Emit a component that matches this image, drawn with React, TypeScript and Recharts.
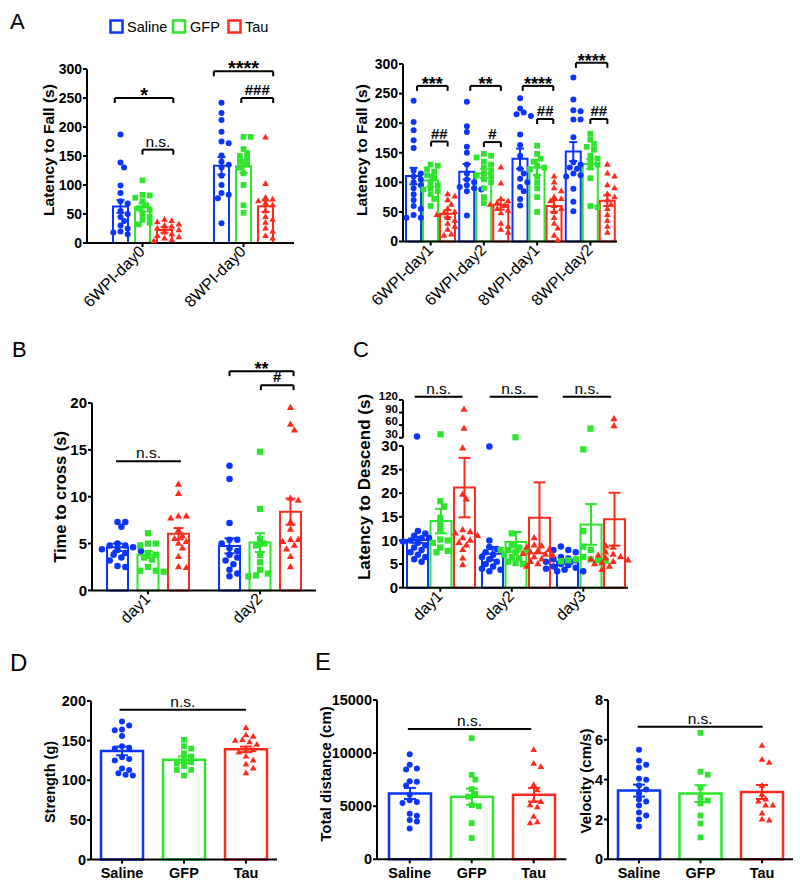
import React from 'react';
import { ComposedChart, Bar, ErrorBar, Scatter, XAxis, YAxis, ReferenceLine } from 'recharts';

const FONT = '"Liberation Sans", Arial, Helvetica, sans-serif';
const SERIES = ['Saline', 'GFP', 'Tau'];
const COLORS = ['#0a34ff', '#2de52d', '#ff2a1c'];

// ---- A left: latency to fall, day0 ----
const A1_GROUPS = ['6WPI-day0', '8WPI-day0'];
const A1_MEAN = [[63, 133], [61.5, 132.5], [22.5, 63.5]];
const A1_SEM = [[11, 15], [7, 12], [4.5, 10]];
const A1_SALINE = [
  [187, 139, 130, 99, 86, 72, 68, 55, 50, 45, 38, 30, 25, 20, 18, 15],
  [242, 224, 212, 192, 175, 172, 151, 140, 135, 130, 116, 100, 86, 83, 77, 34],
];
const A1_GFP = [
  [108, 83, 82, 78, 72, 65, 60, 57, 50, 45, 40, 35, 32],
  [183, 183, 162, 155, 150, 145, 140, 135, 130, 120, 100, 65, 52],
];
const A1_TAU = [
  [40, 38, 36, 32, 30, 28, 25, 22, 18, 15, 12, 10, 8, 5, 3],
  [182, 102, 78, 75, 72, 68, 65, 55, 45, 40, 35, 25, 20, 12, 8],
];

// ---- A right: latency to fall, day1/day2 ----
const A2_GROUPS = ['6WPI-day1', '6WPI-day2', '8WPI-day1', '8WPI-day2'];
const A2_MEAN = [[110.5, 118, 140, 152], [103, 115, 125, 131], [47, 62, 60, 69]];
const A2_SEM = [[14, 13, 17, 16], [10, 8, 13, 8], [6, 8, 10, 9]];
const A2_SALINE = [
  [238, 202, 188, 171, 158, 120, 115, 110, 105, 100, 95, 90, 80, 70, 60, 55, 45, 40, 40],
  [236, 195, 185, 160, 150, 130, 115, 105, 100, 95, 92, 90, 88, 85, 44],
  [242, 225, 218, 215, 212, 181, 163, 145, 123, 115, 106, 100, 92, 85, 72, 61],
  [277, 240, 222, 220, 206, 206, 176, 134, 130, 125, 123, 115, 112, 110, 89, 67, 51],
];
const A2_GFP = [
  [130, 128, 122, 118, 112, 108, 100, 95, 90, 88, 85, 80, 72, 60],
  [148, 145, 142, 135, 130, 125, 120, 115, 112, 110, 105, 100, 90, 75, 65],
  [162, 148, 140, 135, 128, 125, 122, 110, 100, 90, 75, 50],
  [182, 172, 165, 160, 155, 145, 140, 135, 130, 125, 107, 60, 58],
];
const A2_TAU = [
  [80, 76, 70, 62, 55, 50, 48, 45, 40, 35, 30, 25, 20, 12, 10],
  [125, 98, 72, 68, 65, 62, 60, 55, 52, 48, 30, 25, 20, 15],
  [110, 100, 90, 85, 75, 72, 68, 60, 55, 50, 40, 30, 22, 10, 2],
  [130, 115, 110, 95, 90, 80, 75, 70, 62, 55, 45, 35, 25, 15],
];

// ---- B: time to cross ----
const B_GROUPS = ['day1', 'day2'];
const B_MEAN = [[4.6, 4.75], [3.8, 5.1], [6.05, 8.4]];
const B_SEM = [[0.4, 0.8], [0.35, 1.0], [0.6, 1.4]];
const B_SALINE = [
  [7.3, 7.3, 6.8, 5.0, 4.8, 4.8, 4.6, 4.4, 4.3, 4.2, 4.0, 3.8, 3.5, 3.2, 2.6, 2.5],
  [13.3, 11.9, 7.2, 5.4, 5.4, 5.0, 4.5, 4.2, 3.8, 3.5, 3.2, 2.8, 2.2, 1.8, 1.5],
];
const B_GFP = [
  [6.1, 5.0, 5.0, 4.8, 4.0, 3.8, 3.5, 3.3, 2.5, 2.1, 2.1, 2.0],
  [14.8, 8.7, 5.5, 5.0, 4.8, 3.8, 3.0, 2.2, 1.8, 1.6, 1.5],
];
const B_TAU = [
  [11.3, 10.3, 7.9, 7.9, 7.7, 6.4, 5.8, 5.5, 5.2, 5.0, 4.5, 3.6, 2.5, 2.4],
  [19.5, 17.7, 17.1, 9.8, 9.6, 7.3, 6.5, 5.4, 5.4, 5.2, 4.8, 4.4, 3.6, 2.5],
];

// ---- C: latency to descend (broken axis) ----
const C_GROUPS = ['day1', 'day2', 'day3'];
const C_MEAN = [[10.1, 7.2, 5.5], [14.1, 9.7, 13.4], [21.2, 14.8, 14.5]];
const C_SEM = [[0.6, 1.4, 0.4], [2.6, 2.1, 4.3], [6.3, 7.5, 5.6]];
const C_SALINE = [
  [33, 12, 11.5, 11, 10.5, 10.5, 10, 9.8, 9.5, 9, 8.5, 8, 7.5, 7, 6.5, 6, 5.5],
  [29.9, 10, 8.6, 8.2, 7.5, 7, 6.5, 6, 5.5, 5, 4.5, 4, 3.8, 3.5],
  [8.7, 8, 8, 7.5, 6.5, 6.2, 6, 5.8, 5.5, 5, 4.8, 4.5, 4.2, 4, 3.8, 3.5, 3.5],
];
const C_GFP = [
  [38, 18.3, 17.2, 14.8, 13.5, 12.2, 10.2, 10, 9.5, 8.5, 7.8, 7.5],
  [31, 11.5, 9, 8.5, 8, 8, 7.8, 7.5, 7, 6.5, 6.2, 5.5, 5.2, 5],
  [51.5, 29.3, 12, 8.7, 8, 6.5, 6, 6, 5.8, 5.8, 5.7, 5.6],
];
const C_TAU = [
  [97, 52, 29.5, 19.7, 18.7, 12.2, 11.8, 11.5, 11, 10.5, 10, 9.5, 9, 8, 6.2, 4.8],
  [10.5, 9, 8.8, 8.5, 8, 7.8, 7.5, 7.2, 7, 6.8, 6.5, 6, 5.5, 5, 4.5],
  [74.6, 58, 8.8, 8.5, 7.5, 7, 6.8, 6.5, 6.2, 6, 5.8, 5.5, 5.2, 5, 4.5, 3.8],
];

// ---- D: strength ----
const D_MEAN = [[137], [126], [139]];
const D_SEM = [[5.5], [4], [3.5]];
const D_SALINE = [[174, 169, 164, 163, 156, 143, 141, 140, 129, 127, 125, 115, 113, 109, 107, 106]];
const D_GFP = [[151, 143, 140, 134, 130, 125, 123, 121, 118, 113, 113, 106]];
const D_TAU = [[166, 157, 155, 151, 150, 148, 145, 140, 138, 135, 130, 125, 120, 115, 109]];

// ---- E: open field ----
const E1_MEAN = [[6200], [5900], [6080]];
const E1_SEM = [[520], [760], [640]];
const E1_SALINE = [[9900, 8900, 8550, 8450, 7350, 7300, 6950, 6100, 5550, 5400, 5300, 4300, 4100, 3700, 3550, 2900]];
const E1_GFP = [[11400, 7950, 7500, 6600, 6150, 5900, 5100, 5000, 3400, 2000]];
const E1_TAU = [[10300, 9000, 8700, 7000, 6500, 5500, 5400, 5100, 4900, 4000, 3500, 3400]];
const E2_MEAN = [[3.45], [3.3], [3.38]];
const E2_SEM = [[0.3], [0.42], [0.35]];
const E2_SALINE = [[5.5, 4.95, 4.75, 4.6, 4.05, 4.0, 3.7, 3.5, 3.3, 3.0, 2.9, 2.7, 2.35, 2.2, 2.0, 1.65]];
const E2_GFP = [[6.35, 4.4, 4.25, 3.6, 3.1, 2.95, 2.8, 2.2, 1.8, 1.1]];
const E2_TAU = [[5.7, 5.0, 4.85, 3.7, 3.25, 3.0, 2.9, 2.7, 2.7, 2.3, 2.0, 1.95]];

// significance marks: group, from/to in bar slots (0 = Saline, 2 = Tau), y in data units
type Sig = { g: number; from: number; to: number; y: number; text: string; drop?: boolean };
const A1_SIG: Sig[] = [
  { g: 0, from: -0.26, to: 2.4, y: 250, text: '*', drop: true },
  { g: 0, from: 1.0, to: 2.4, y: 161, text: 'n.s.', drop: true },
  { g: 1, from: -0.35, to: 2.35, y: 296, text: '****', drop: true },
  { g: 1, from: 0.9, to: 2.35, y: 250, text: '###', drop: true },
];
const A2_SIG: Sig[] = [
  { g: 0, from: 0.2, to: 2.0, y: 263, text: '***', drop: true },
  { g: 0, from: 1.03, to: 2.0, y: 169, text: '##', drop: true },
  { g: 1, from: 0.2, to: 2.0, y: 263, text: '**', drop: true },
  { g: 1, from: 1.0, to: 2.0, y: 168, text: '#', drop: true },
  { g: 2, from: 0.15, to: 1.95, y: 263, text: '****', drop: true },
  { g: 2, from: 1.0, to: 1.95, y: 207, text: '##', drop: true },
  { g: 3, from: 0.15, to: 2.0, y: 302, text: '****', drop: true },
  { g: 3, from: 1.0, to: 2.0, y: 207, text: '##', drop: true },
];
const B_SIG: Sig[] = [
  { g: 0, from: -0.05, to: 2.08, y: 13.77, text: 'n.s.' },
  { g: 1, from: 0, to: 2.1, y: 23.4, text: '**', drop: true },
  { g: 1, from: 1.03, to: 2.1, y: 21.9, text: '#', drop: true },
];
const C_SIG: Sig[] = [
  { g: 0, from: -0.1, to: 1.94, y: 128, text: 'n.s.' },
  { g: 1, from: -0.1, to: 1.95, y: 128, text: 'n.s.' },
  { g: 2, from: -0.18, to: 1.88, y: 128, text: 'n.s.' },
];
const D_SIG: Sig[] = [{ g: 0, from: -0.04, to: 2.0, y: 189, text: 'n.s.' }];
const E1_SIG: Sig[] = [{ g: 0, from: -0.03, to: 1.96, y: 12270, text: 'n.s.' }];
const E2_SIG: Sig[] = [{ g: 0, from: -0.02, to: 2.01, y: 6.66, text: 'n.s.' }];

// simple beeswarm: horizontal pixel offsets so dots don't pile up
function swarm(py: number[], d: number): number[] {
  const done: [number, number][] = [];
  return py.map((y) => {
    let best = 0;
    for (let k = 0; k < 15; k++) {
      const off = k === 0 ? 0 : (k % 2 ? 1 : -1) * Math.ceil(k / 2) * d * 0.6;
      if (done.every(([ox, oy]) => Math.hypot(ox - off, oy - y) >= d * 0.9)) {
        best = off;
        break;
      }
    }
    done.push([best, y]);
    return best;
  });
}

function dotShape(s: number, d: number) {
  const color = COLORS[s];
  return (props: any) => {
    const { cx, cy } = props;
    if (cx == null || cy == null) return <g />;
    if (s === 0) return <circle cx={cx} cy={cy} r={d / 2} fill={color} />;
    if (s === 1) return <rect x={cx - d * 0.48} y={cy - d * 0.48} width={d * 0.96} height={d * 0.96} fill={color} />;
    const r = d * 0.62;
    return <polygon points={`${cx},${cy - r} ${cx + r * 0.9},${cy + r * 0.55} ${cx - r * 0.9},${cy + r * 0.55}`} fill={color} />;
  };
}

function XTick({ x, y, payload, names, ticks, angled, font }: any) {
  const i = ticks.findIndex((t: number) => Math.abs(t - payload.value) < 1e-6);
  const label = i >= 0 ? names[i] : '';
  if (angled) {
    return (
      <text x={x} y={y} dy={font * 0.3} textAnchor="end" transform={`rotate(-45 ${x} ${y})`}
        fontSize={font} fontFamily={FONT} fill="#000">{label}</text>
    );
  }
  return (
    <text x={x} y={y} dy={font * 0.85} textAnchor="middle" fontSize={font} fontWeight="bold"
      fontFamily={FONT} fill="#000">{label}</text>
  );
}

function YTick({ x, y, payload, font, shift }: any) {
  return (
    <text x={x} y={y} dy={font * 0.35 + shift} textAnchor="end" fontSize={font} fontWeight="bold"
      fontFamily={FONT} fill="#000">{payload.value}</text>
  );
}

type PanelProps = {
  x: number; y: number; w: number; h: number;
  groups: string[];
  perBar?: boolean;
  mean?: number[][]; sem?: number[][];
  pts: number[][][];
  domain: [number, number]; ticks: number[];
  barSize: number; barGap: number; padL?: number; barStroke?: number;
  sig: Sig[];
  yFont: number; yShift?: number; xFont: number; angled?: boolean; showX?: boolean;
  dot: number; cap: number; starFont?: number;
};

function Panel(p: PanelProps) {
  const ML = 70, MT = 60, MR = 12;
  const showX = p.showX !== false;
  const MB = showX ? (p.angled ? 100 : 32) : 0;
  const padL = p.padL ?? 0;
  const n = p.groups.length;
  const band = (p.w - padL) / n;
  const slot = (p.barSize + p.barGap) / band;
  const [lo, hi] = p.domain;
  const ppu = p.h / (hi - lo);
  const pos = (g: number, k: number) => g + 0.5 + (k - 1) * slot;

  const rows = p.groups.map((name, g) => {
    const r: Record<string, any> = { name };
    SERIES.forEach((_, s) => {
      if (p.mean) {
        r[`m${s}`] = p.mean[s][g];
        r[`e${s}`] = p.sem ? p.sem[s][g] : 0;
      }
    });
    return r;
  });

  const dots = SERIES.map((_, s) =>
    p.groups.flatMap((_, g) => {
      const vals = p.pts[s][g].filter((v) => v >= lo && v <= hi);
      const offs = swarm(vals.map((v) => (v - lo) * ppu), p.dot);
      return vals.map((v, i) => ({ x: pos(g, s) + offs[i] / band, y: v }));
    })
  );

  const xTicks = p.perBar ? SERIES.map((_, k) => pos(0, k)) : p.groups.map((_, g) => g + 0.5);
  const names = p.perBar ? SERIES : p.groups;
  const axisStyle = { stroke: '#000', strokeWidth: 2 };
  const dropU = 5 / ppu;

  const lines = p.sig.flatMap((b, i) => {
    const x1 = pos(b.g, b.from);
    const x2 = pos(b.g, b.to);
    const star = b.text.includes('*');
    const hash = b.text.includes('#');
    const label = {
      value: b.text,
      position: 'top',
      offset: star ? -4 : 3,
      fill: '#000',
      fontSize: star ? p.starFont ?? 18 : hash ? 15 : 15.5,
      fontWeight: star || hash ? 'bold' : 'normal',
      fontFamily: FONT,
    };
    const out = [
      <ReferenceLine key={`h${i}`} xAxisId="n" ifOverflow="visible" stroke="#000" strokeWidth={2}
        segment={[{ x: x1, y: b.y }, { x: x2, y: b.y }]} label={label} />,
    ];
    if (b.drop) {
      out.push(
        <ReferenceLine key={`l${i}`} xAxisId="n" ifOverflow="visible" stroke="#000" strokeWidth={2}
          segment={[{ x: x1, y: b.y }, { x: x1, y: b.y - dropU }]} />,
        <ReferenceLine key={`r${i}`} xAxisId="n" ifOverflow="visible" stroke="#000" strokeWidth={2}
          segment={[{ x: x2, y: b.y }, { x: x2, y: b.y - dropU }]} />
      );
    }
    return out;
  });

  const bottom = showX ? 0 : 6;
  return (
    <div style={{ position: 'absolute', left: p.x - ML, top: p.y - MT }}>
      <ComposedChart width={ML + p.w + MR} height={MT + p.h + MB + bottom} data={rows}
        margin={{ top: MT, right: MR, bottom, left: 0 }} barGap={p.barGap}>
        <XAxis dataKey="name" hide height={0} padding={{ left: padL, right: 0 }} />
        <XAxis xAxisId="n" type="number" dataKey="x" domain={[0, n]} ticks={xTicks} interval={0}
          hide={!showX} height={MB} padding={{ left: padL, right: 0 }} axisLine={axisStyle}
          tickLine={axisStyle} tickSize={4}
          tick={(tp: any) => <XTick {...tp} names={names} ticks={xTicks} angled={p.angled} font={p.xFont} />} />
        <YAxis width={ML} type="number" domain={p.domain} ticks={p.ticks} interval={0}
          axisLine={axisStyle} tickLine={axisStyle} tickSize={4} tickMargin={1}
          tick={(tp: any) => <YTick {...tp} font={p.yFont} shift={p.yShift ?? 0} />} />
        {p.mean && SERIES.map((_, s) => (
          <Bar key={`b${s}`} dataKey={`m${s}`} barSize={p.barSize} fill="none" stroke={COLORS[s]}
            strokeWidth={p.barStroke ?? 2} isAnimationActive={false}>
            <ErrorBar dataKey={`e${s}`} width={p.cap} stroke={COLORS[s]} strokeWidth={2} direction="y" />
          </Bar>
        ))}
        {SERIES.map((_, s) => (
          <Scatter key={`s${s}`} xAxisId="n" data={dots[s]} dataKey="y" shape={dotShape(s, p.dot)}
            isAnimationActive={false} />
        ))}
        {lines}
      </ComposedChart>
    </div>
  );
}

function VLabel({ x, y, size, children }: any) {
  return (
    <text x={x} y={y} transform={`rotate(-90 ${x} ${y})`} textAnchor="middle" dominantBaseline="central"
      fontSize={size} fontWeight="bold" fontFamily={FONT} fill="#000">{children}</text>
  );
}

export default function App() {
  const legendX = [110.5, 173, 228.5];
  const legendTextX = [127, 190, 245];
  return (
    <div style={{ position: 'absolute', left: 0, top: 0, width: 800, height: 890, background: '#fff', overflow: 'hidden' }}>
      <Panel x={87} y={69} w={207} h={174} groups={A1_GROUPS} mean={A1_MEAN} sem={A1_SEM}
        pts={[A1_SALINE, A1_GFP, A1_TAU]} domain={[0, 300]} ticks={[0, 50, 100, 150, 200, 250, 300]}
        barSize={15} barGap={7} padL={5} sig={A1_SIG} yFont={14} xFont={16} angled dot={6} cap={4} starFont={20} />
      <Panel x={403} y={63.5} w={214} h={177.5} groups={A2_GROUPS} mean={A2_MEAN} sem={A2_SEM}
        pts={[A2_SALINE, A2_GFP, A2_TAU]} domain={[0, 300]} ticks={[0, 50, 100, 150, 200, 250, 300]}
        barSize={15} barGap={2} padL={1} sig={A2_SIG} yFont={14} xFont={16} angled dot={6} cap={4} starFont={18} />
      <Panel x={92} y={403.3} w={224} h={187.4} groups={B_GROUPS} mean={B_MEAN} sem={B_SEM}
        pts={[B_SALINE, B_GFP, B_TAU]} domain={[0, 20]} ticks={[0, 5, 10, 15, 20]}
        barSize={21} barGap={9.5} sig={B_SIG} yFont={15} xFont={16} angled dot={6.5} cap={5} starFont={18} />
      <Panel x={403.3} y={446} w={225} h={141.7} groups={C_GROUPS} mean={C_MEAN} sem={C_SEM}
        pts={[C_SALINE, C_GFP, C_TAU]} domain={[0, 30]} ticks={[0, 5, 10, 15, 20, 25, 30]}
        barSize={21} barGap={2.5} sig={[]} yFont={15} xFont={16} angled dot={6.5} cap={6} />
      <Panel x={403.3} y={400} w={225} h={37.7} groups={C_GROUPS}
        pts={[C_SALINE, C_GFP, C_TAU]} domain={[30, 120]} ticks={[30, 60, 90, 120]}
        barSize={21} barGap={2.5} sig={C_SIG} yFont={11.5} yShift={-4} xFont={16} showX={false} dot={6.5} cap={6} />
      <Panel x={90.7} y={700.7} w={186} h={158.6} groups={['']} perBar mean={D_MEAN} sem={D_SEM}
        pts={[D_SALINE, D_GFP, D_TAU]} domain={[0, 200]} ticks={[0, 50, 100, 150, 200]}
        barSize={42} barGap={20} barStroke={2.5} sig={D_SIG} yFont={14.5} xFont={14.5} dot={6} cap={6} />
      <Panel x={377.3} y={700} w={189.4} h={159.3} groups={['']} perBar mean={E1_MEAN} sem={E1_SEM}
        pts={[E1_SALINE, E1_GFP, E1_TAU]} domain={[0, 15000]} ticks={[0, 5000, 10000, 15000]}
        barSize={42} barGap={20} barStroke={2.5} sig={E1_SIG} yFont={14.5} xFont={14.5} dot={6} cap={6} />
      <Panel x={608.3} y={700} w={185} h={159.3} groups={['']} perBar mean={E2_MEAN} sem={E2_SEM}
        pts={[E2_SALINE, E2_GFP, E2_TAU]} domain={[0, 8]} ticks={[0, 2, 4, 6, 8]}
        barSize={42} barGap={19.5} barStroke={2.5} sig={E2_SIG} yFont={14.5} xFont={14.5} dot={6} cap={6} />

      <svg width={800} height={890} style={{ position: 'absolute', left: 0, top: 0, pointerEvents: 'none' }}>
        <g fontFamily={FONT} fill="#000">
          <text x={10} y={29} fontSize={22}>A</text>
          <text x={12} y={357} fontSize={22}>B</text>
          <text x={353} y={357} fontSize={22}>C</text>
          <text x={10} y={671} fontSize={24}>D</text>
          <text x={315} y={670} fontSize={24}>E</text>
        </g>
        {SERIES.map((name, s) => (
          <g key={name}>
            <rect x={legendX[s]} y={20.5} width={12} height={12} fill="none" stroke={COLORS[s]} strokeWidth={2.5} />
            <text x={legendTextX[s]} y={32} fontSize={14.5} fontFamily={FONT} fill="#000">{name}</text>
          </g>
        ))}
        <VLabel x={48} y={150} size={15.5}>Latency to Fall (s)</VLabel>
        <VLabel x={361} y={150} size={15.5}>Latency to Fall (s)</VLabel>
        <VLabel x={60} y={497} size={16.5}>Time to cross (s)</VLabel>
        <VLabel x={364} y={487} size={17}>Latency to Descend (s)</VLabel>
        <VLabel x={50} y={782} size={14.5}>Strength (g)</VLabel>
        <VLabel x={325} y={774} size={15}>Total distance (cm)</VLabel>
        <VLabel x={585} y={781} size={15}>Velocity (cm/s)</VLabel>
      </svg>
    </div>
  );
}
